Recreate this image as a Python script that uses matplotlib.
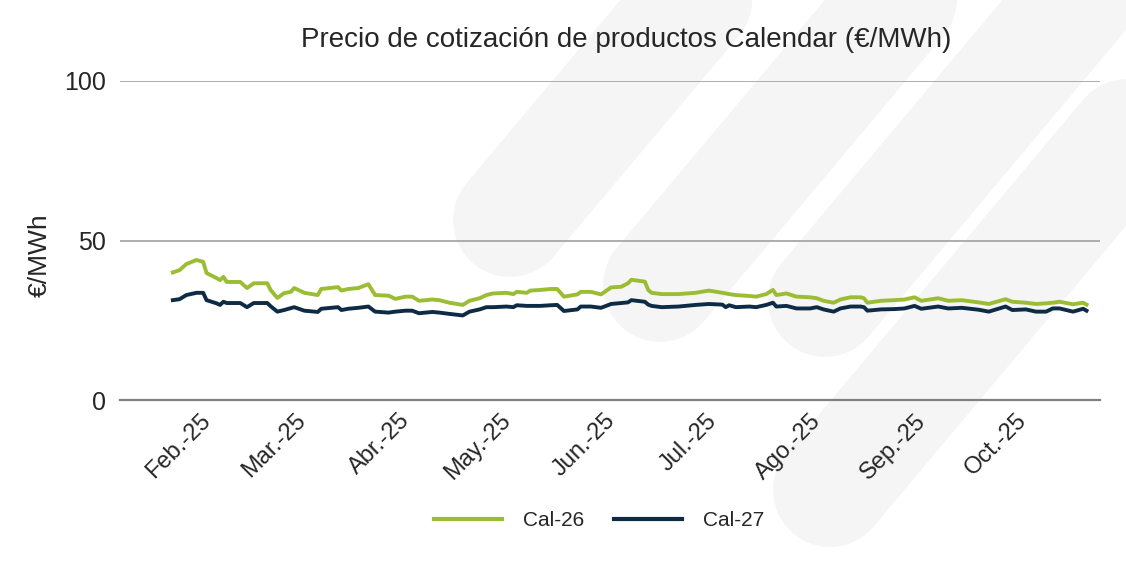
import matplotlib
matplotlib.use("Agg")
import matplotlib.pyplot as plt
import matplotlib.dates as mdates
import numpy as np
import pandas as pd

# ---------------- data ----------------
dates = [
    "2025-01-24", "2025-01-26", "2025-01-28", "2025-01-31", "2025-02-02", "2025-02-03",
    "2025-02-06", "2025-02-07", "2025-02-08", "2025-02-09", "2025-02-11", "2025-02-13",
    "2025-02-15", "2025-02-17", "2025-02-21", "2025-02-22", "2025-02-24", "2025-02-26",
    "2025-02-28", "2025-03-01", "2025-03-04", "2025-03-08", "2025-03-09", "2025-03-14",
    "2025-03-15", "2025-03-17", "2025-03-20", "2025-03-23", "2025-03-25", "2025-03-29",
    "2025-03-31", "2025-04-03", "2025-04-05", "2025-04-07", "2025-04-11", "2025-04-13",
    "2025-04-16", "2025-04-20", "2025-04-22", "2025-04-25", "2025-04-27", "2025-04-29",
    "2025-05-03", "2025-05-05", "2025-05-06", "2025-05-09", "2025-05-10", "2025-05-13",
    "2025-05-16", "2025-05-18", "2025-05-20", "2025-05-24", "2025-05-25", "2025-05-28",
    "2025-05-31", "2025-06-03", "2025-06-06", "2025-06-08", "2025-06-09", "2025-06-13",
    "2025-06-14", "2025-06-15", "2025-06-18", "2025-06-23", "2025-06-28", "2025-07-02",
    "2025-07-06", "2025-07-07", "2025-07-08", "2025-07-10", "2025-07-14", "2025-07-16",
    "2025-07-19", "2025-07-21", "2025-07-22", "2025-07-25", "2025-07-28", "2025-08-01",
    "2025-08-03", "2025-08-05", "2025-08-08", "2025-08-10", "2025-08-13", "2025-08-16",
    "2025-08-17", "2025-08-18", "2025-08-22", "2025-08-26", "2025-08-29", "2025-09-01",
    "2025-09-03", "2025-09-08", "2025-09-11", "2025-09-15", "2025-09-20", "2025-09-23",
    "2025-09-28", "2025-09-30", "2025-10-04", "2025-10-07", "2025-10-10", "2025-10-12",
    "2025-10-14", "2025-10-18", "2025-10-21", "2025-10-22",
]
cal26 = [
    40.0, 40.7, 42.6, 43.9, 43.3, 39.8, 38.2, 37.6, 38.6, 37.0, 37.0, 37.0,
    35.1, 36.6, 36.6, 34.5, 32.0, 33.5, 33.9, 35.1, 33.6, 32.9, 34.8, 35.4,
    34.3, 34.8, 35.1, 36.3, 32.9, 32.7, 31.7, 32.4, 32.4, 31.1, 31.5, 31.3,
    30.5, 29.8, 31.1, 31.9, 32.9, 33.4, 33.6, 33.2, 33.9, 33.6, 34.3, 34.5,
    34.8, 34.8, 32.4, 33.1, 33.9, 33.9, 33.1, 35.3, 35.5, 36.6, 37.7, 37.1,
    34.5, 33.6, 33.2, 33.2, 33.6, 34.3, 33.6, 33.4, 33.2, 32.9, 32.6, 32.4,
    33.2, 34.5, 32.9, 33.4, 32.4, 32.2, 31.9, 31.1, 30.5, 31.5, 32.2, 32.2,
    31.9, 30.5, 31.1, 31.3, 31.5, 32.2, 31.1, 31.9, 31.1, 31.3, 30.6, 30.1,
    31.6, 30.8, 30.5, 30.1, 30.3, 30.5, 30.8, 30.0, 30.5, 29.9,
]
cal27 = [
    31.3, 31.6, 32.9, 33.6, 33.6, 31.3, 30.3, 29.8, 30.8, 30.4, 30.4, 30.4,
    29.1, 30.4, 30.4, 29.4, 27.7, 28.2, 28.8, 29.1, 28.0, 27.6, 28.6, 29.1,
    28.2, 28.6, 28.9, 29.3, 27.7, 27.4, 27.7, 28.0, 28.0, 27.2, 27.6, 27.4,
    27.0, 26.5, 27.7, 28.4, 29.1, 29.1, 29.3, 29.1, 29.7, 29.5, 29.5, 29.5,
    29.7, 29.8, 27.9, 28.4, 29.3, 29.3, 28.9, 30.1, 30.4, 30.6, 31.3, 30.8,
    29.9, 29.5, 29.1, 29.3, 29.8, 30.1, 29.9, 29.1, 29.7, 29.1, 29.3, 29.1,
    29.8, 30.5, 29.3, 29.5, 28.7, 28.7, 29.1, 28.4, 27.7, 28.7, 29.3, 29.3,
    29.1, 28.0, 28.4, 28.5, 28.7, 29.5, 28.6, 29.3, 28.7, 28.9, 28.3, 27.7,
    29.3, 28.2, 28.4, 27.7, 27.7, 28.7, 28.7, 27.7, 28.6, 28.0,
]
series_names = ["Cal-26", "Cal-27"]
month_ticks = ["2025-02-01", "2025-03-01", "2025-04-01", "2025-05-01", "2025-06-01",
               "2025-07-01", "2025-08-01", "2025-09-01", "2025-10-01"]
month_labels = ["Feb.-25", "Mar.-25", "Abr.-25", "May.-25", "Jun.-25",
                "Jul.-25", "Ago.-25", "Sep.-25", "Oct.-25"]
y_ticks = [0, 50, 100]
title = "Precio de cotización de productos Calendar (€/MWh)"
y_label = "€/MWh"

# ---------------- styling ----------------
plt.rcParams["font.family"] = ["Liberation Sans", "DejaVu Sans"]
GREEN = "#9BBD33"
NAVY = "#0E2B45"
TEXT = "#262626"

W, H = 1126, 562
fig = plt.figure(figsize=(W / 100, H / 100), dpi=100)
fig.patch.set_facecolor("white")

# background watermark (light diagonal rounded stripes)
bg = fig.add_axes([0, 0, 1, 1], zorder=0)
bg.set_xlim(0, W)
bg.set_ylim(H, 0)
bg.axis("off")
ang = np.deg2rad(50)
d = np.array([np.cos(ang), -np.sin(ang)])
for cx, cy in [(510, 220), (660, 285), (825, 300), (830, 490), (1170, 360), (575, -55)]:
    p0 = np.array([cx, cy])
    p1 = p0 + d * 900
    bg.plot([p0[0], p1[0]], [p0[1], p1[1]], color="#F5F5F5", lw=82,
            solid_capstyle="round", zorder=0)

# main axes
ax = fig.add_axes([120 / W, 1 - 400 / H, 980 / W, 319 / H], zorder=1)
ax.set_facecolor("none")

x = pd.to_datetime(dates)
ax.plot(x, cal26, color=GREEN, lw=2.8, label=series_names[0], zorder=3)
ax.plot(x, cal27, color=NAVY, lw=2.8, label=series_names[1], zorder=3)

ax.set_ylim(0, 100)
ax.set_yticks(y_ticks)
ax.set_yticklabels([str(v) for v in y_ticks], fontsize=18, color=TEXT)
ax.set_xlim(mdates.date2num(pd.Timestamp("2025-01-08 08:00")),
            mdates.date2num(pd.Timestamp("2025-10-26 00:00")))
ax.set_xticks(pd.to_datetime(month_ticks))
ax.set_xticklabels(month_labels, fontsize=17, color=TEXT, rotation=45,
                   ha="right", va="top", rotation_mode="anchor")

ax.tick_params(axis="both", length=0)
ax.tick_params(axis="y", pad=10)
ax.tick_params(axis="x", pad=7)

for s in ["top", "right", "left"]:
    ax.spines[s].set_visible(False)
ax.spines["bottom"].set_color("#808080")
ax.spines["bottom"].set_linewidth(1.6)

for v in y_ticks[1:]:
    ax.axhline(v, color="#A0A0A0", lw=1.2, zorder=1)

ax.set_ylabel(y_label, fontsize=19, color=TEXT)
ax.yaxis.set_label_coords(-68 / 980, 0.453)

fig.text(626 / W, 1 - 40 / H, title, ha="center", va="center", fontsize=20, color=TEXT)

leg = fig.legend(loc="center", bbox_to_anchor=(599 / W, 1 - 521 / H), ncol=2,
                 frameon=False, fontsize=15, handlelength=3.3, handletextpad=1.0,
                 columnspacing=1.4)
for line in leg.get_lines():
    line.set_linewidth(3)
for t in leg.get_texts():
    t.set_color(TEXT)

fig.savefig("out.png", dpi=100)
